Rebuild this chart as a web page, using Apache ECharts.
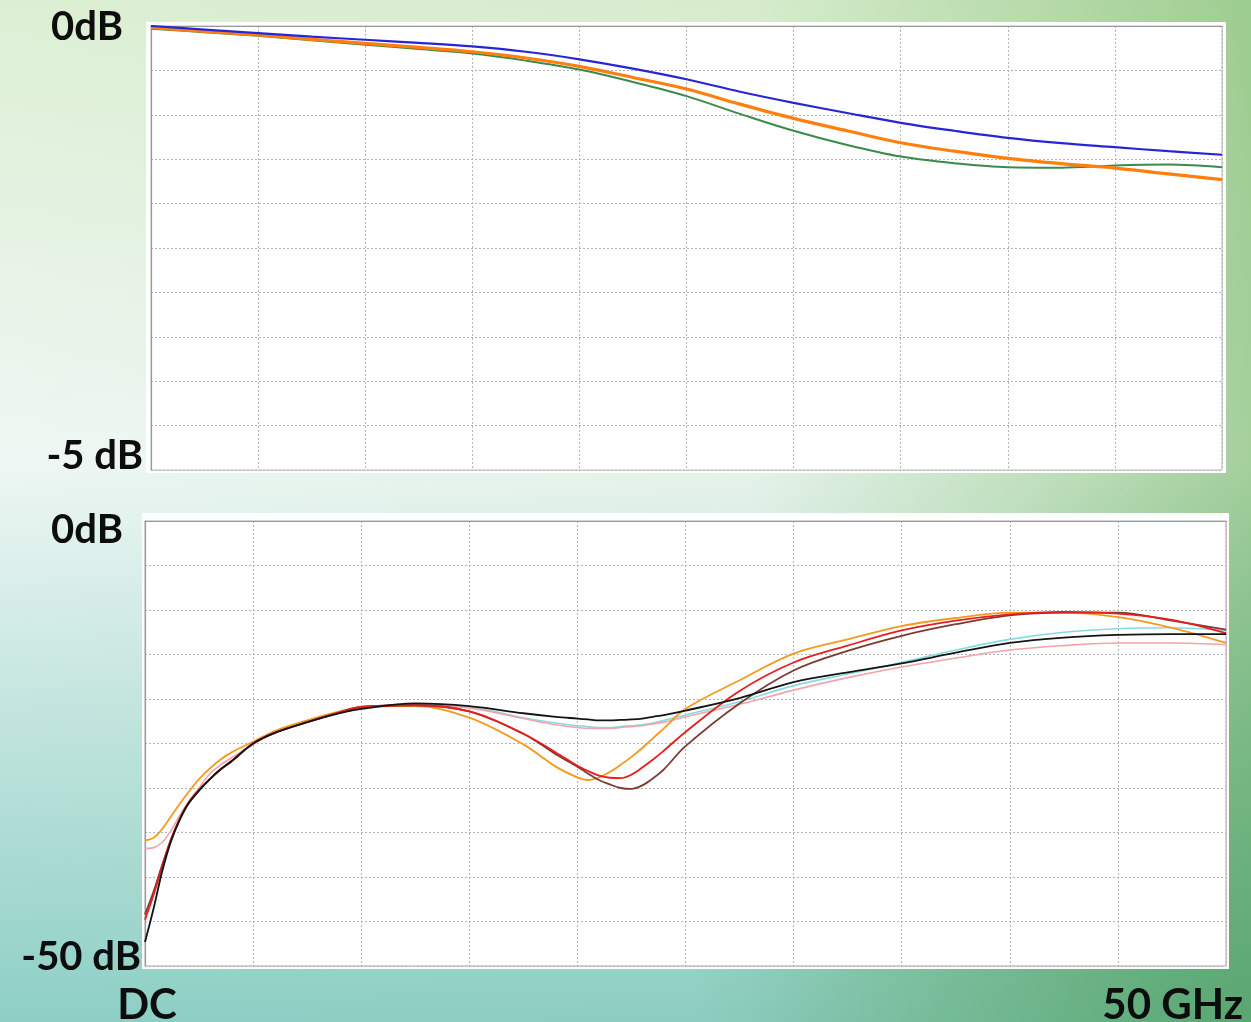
<!DOCTYPE html>
<html>
<head>
<meta charset="utf-8">
<title>Insertion / return loss</title>
<script src="https://cdn.jsdelivr.net/npm/echarts@6/dist/echarts.min.js"></script>
<style>
  html, body { margin: 0; padding: 0; }
  #chart { width: 1251px; height: 1022px; }
</style>
</head>
<body>
<div id="chart"></div>
<script>
// Frequency axes (GHz)
const freqTop = [0, 2.5, 5, 7.5, 10, 12.5, 15, 17.5, 20, 22.5, 25, 27.5, 30, 32.5, 35, 37.5, 40, 42.5, 45, 47.5, 50];
const freqBot = [0, 0.4, 0.8, 1.2, 1.6, 2, 2.5, 3, 3.5, 4, 5, 6, 7.5, 9, 10, 12.5, 15, 17.5, 19, 20, 20.5, 21, 21.5, 22, 22.5, 23, 23.5, 24, 25, 27.5, 30, 32.5, 35, 37.5, 40, 42.5, 45, 47.5, 50];

// Insertion loss (dB), upper panel
const ilBlue   = [0, -0.04, -0.08, -0.12, -0.155, -0.19, -0.23, -0.29, -0.375, -0.48, -0.60, -0.74, -0.865, -0.98, -1.09, -1.18, -1.26, -1.32, -1.365, -1.41, -1.45];
const ilOrange = [-0.02, -0.06, -0.10, -0.15, -0.195, -0.24, -0.29, -0.36, -0.455, -0.58, -0.71, -0.88, -1.04, -1.18, -1.315, -1.41, -1.49, -1.55, -1.60, -1.665, -1.73];
const ilGreen  = [-0.03, -0.07, -0.11, -0.16, -0.21, -0.26, -0.31, -0.39, -0.49, -0.63, -0.79, -0.99, -1.18, -1.34, -1.47, -1.545, -1.59, -1.595, -1.57, -1.56, -1.59];

// Return loss (dB), lower panel
const rlBlack  = [-47.3, -43.5, -39.3, -36.0, -33.6, -31.8, -30.3, -29.0, -27.9, -27.0, -25.0, -23.8, -22.6, -21.6, -21.1, -20.5, -20.8, -21.6, -22.0, -22.2, -22.3, -22.4, -22.4, -22.35, -22.3, -22.2, -22.0, -21.8, -21.3, -19.9, -18.1, -17.0, -16.0, -14.8, -13.7, -13.1, -12.8, -12.7, -12.7];
const rlCyan   = [-47.3, -43.6, -39.4, -36.0, -33.6, -31.8, -30.3, -29.0, -27.9, -27.0, -25.0, -23.8, -22.6, -21.6, -21.1, -20.6, -20.9, -22.1, -22.7, -23.0, -23.1, -23.2, -23.2, -23.1, -23.0, -22.9, -22.7, -22.4, -21.8, -20.3, -18.5, -17.2, -15.9, -14.5, -13.3, -12.5, -12.1, -12.0, -12.3];
const rlPink   = [-36.8, -36.7, -36.1, -34.8, -33.1, -31.6, -30.0, -28.4, -27.4, -26.6, -25.1, -23.8, -22.6, -21.6, -21.1, -20.6, -21.0, -22.2, -22.9, -23.2, -23.3, -23.3, -23.3, -23.2, -23.1, -23.0, -22.8, -22.6, -22.0, -20.6, -19.0, -17.6, -16.4, -15.4, -14.5, -14.0, -13.7, -13.7, -13.9];
const rlOrange = [-35.9, -35.6, -34.6, -33.2, -31.8, -30.5, -29.0, -27.8, -26.8, -26.0, -24.8, -23.6, -22.4, -21.4, -20.9, -20.8, -22.1, -25.1, -27.6, -28.8, -29.1, -28.8, -28.2, -27.4, -26.5, -25.5, -24.4, -23.3, -21.1, -17.9, -14.9, -13.3, -11.8, -10.9, -10.3, -10.3, -10.8, -12.0, -13.7];
const rlRed    = [-44.8, -42.0, -38.8, -35.8, -33.5, -31.7, -30.2, -29.0, -27.9, -27.0, -25.0, -23.8, -22.6, -21.5, -20.9, -20.7, -21.4, -23.9, -26.0, -27.5, -28.1, -28.6, -28.85, -28.9, -28.5, -27.7, -26.8, -25.8, -23.7, -19.1, -15.9, -14.0, -12.3, -11.2, -10.5, -10.2, -10.4, -11.1, -12.6];
const rlBrown  = [-44.2, -41.6, -38.6, -35.8, -33.5, -31.7, -30.2, -29.0, -27.9, -27.0, -25.0, -23.8, -22.6, -21.5, -20.9, -20.7, -21.4, -23.9, -26.2, -27.6, -28.4, -29.1, -29.6, -30.0, -30.1, -29.7, -28.9, -27.9, -25.3, -20.5, -16.8, -14.6, -12.9, -11.6, -10.6, -10.3, -10.3, -11.2, -12.2];

// Axis captions
const topLabels = ['0dB', '-5 dB'];
const botLabels = ['0dB', '-50 dB'];
const freqLabels = ['DC', '50 GHz'];

const pairs = (xs, ys) => xs.map((x, i) => [x, ys[i]]);

const gridStyle = { show: true, lineStyle: { color: '#b4b4b4', type: [2, 2], width: 1 } };
const axisLine = { show: true, lineStyle: { color: '#9a9a9a', width: 1.2 } };

function xAx(gridIndex) {
  return {
    type: 'value', gridIndex, min: 0, max: 50, interval: 5,
    axisLabel: { show: false }, axisTick: { show: false },
    axisLine, splitLine: gridStyle
  };
}
function yAx(gridIndex, min, interval) {
  return {
    type: 'value', gridIndex, min, max: 0, interval,
    axisLabel: { show: false }, axisTick: { show: false },
    axisLine, splitLine: gridStyle
  };
}
function line(name, xi, data, color, width) {
  return {
    name, type: 'line', xAxisIndex: xi, yAxisIndex: xi, data,
    smooth: 0.35, showSymbol: false, symbol: 'none',
    lineStyle: { color, width }, emphasis: { disabled: true }, silent: true
  };
}

const textStyle = (text, x, y, align, size) => ({
  type: 'text', z: 10,
  style: { text, x, y, textAlign: align, textVerticalAlign: 'middle',
           font: 'bold ' + size + 'px Lato, "Noto Sans", sans-serif', fill: '#0d0d0d' }
});

const chart = echarts.init(document.getElementById('chart'), null, { renderer: 'canvas' });
chart.setOption({
  animation: false,
  graphic: [
    { type: 'rect', z: -10, shape: { x: 0, y: 0, width: 1251, height: 1022 },
      style: { fill: new echarts.graphic.LinearGradient(0, 0, 0, 1, [
        { offset: 0, color: '#dcefd3' },
        { offset: 0.45, color: '#eef7f3' },
        { offset: 1, color: '#8dcfc5' }
      ]) } },
    { type: 'rect', z: -9, shape: { x: 0, y: 0, width: 1251, height: 1022 },
      style: { fill: new echarts.graphic.LinearGradient(0, 0, 1, 0, [
        { offset: 0, color: 'rgba(120,185,100,0)' },
        { offset: 0.6, color: 'rgba(120,185,100,0.06)' },
        { offset: 1, color: 'rgba(115,182,98,0.6)' }
      ]) } },
    { type: 'rect', z: -9, shape: { x: 0, y: 0, width: 1251, height: 1022 },
      style: { fill: new echarts.graphic.RadialGradient(1, 1, 0.55, [
        { offset: 0, color: 'rgba(60,145,95,0.55)' },
        { offset: 1, color: 'rgba(60,145,95,0)' }
      ]) } },
    { type: 'rect', z: -8, shape: { x: 146, y: 22, width: 1080, height: 451 }, style: { fill: '#fff' } },
    { type: 'rect', z: -8, shape: { x: 142, y: 513, width: 1087, height: 456 }, style: { fill: '#fff' } },
    textStyle(topLabels[0], 123, 27, 'right', 40),
    textStyle(topLabels[1], 143, 456, 'right', 40),
    textStyle(botLabels[0], 123, 530, 'right', 40),
    textStyle(botLabels[1], 141, 957, 'right', 40),
    textStyle(freqLabels[0], 147, 1005, 'center', 42),
    textStyle(freqLabels[1], 1243, 1005, 'right', 42)
  ],
  grid: [
    { left: 151, top: 26, width: 1071, height: 444, show: true, backgroundColor: '#fff', borderColor: '#b8b8b8', borderWidth: 1 },
    { left: 145, top: 521, width: 1081, height: 445, show: true, backgroundColor: '#fff', borderColor: '#a8a8a8', borderWidth: 1 }
  ],
  xAxis: [xAx(0), xAx(1)],
  yAxis: [yAx(0, -5, 0.5), yAx(1, -50, 5)],
  series: [
    line('green', 0, pairs(freqTop, ilGreen), '#3b8a4c', 2),
    line('orange', 0, pairs(freqTop, ilOrange), '#ff7f0e', 3.2),
    line('blue', 0, pairs(freqTop, ilBlue), '#2626d6', 2.2),
    line('cyan', 1, pairs(freqBot, rlCyan), '#86dbe2', 1.6),
    line('pink', 1, pairs(freqBot, rlPink), '#f2a3ab', 1.6),
    line('orange', 1, pairs(freqBot, rlOrange), '#f5991f', 1.8),
    line('brown', 1, pairs(freqBot, rlBrown), '#7b3a32', 1.8),
    line('red', 1, pairs(freqBot, rlRed), '#e61e1e', 1.8),
    line('black', 1, pairs(freqBot, rlBlack), '#141414', 1.8)
  ]
});
</script>
</body>
</html>
